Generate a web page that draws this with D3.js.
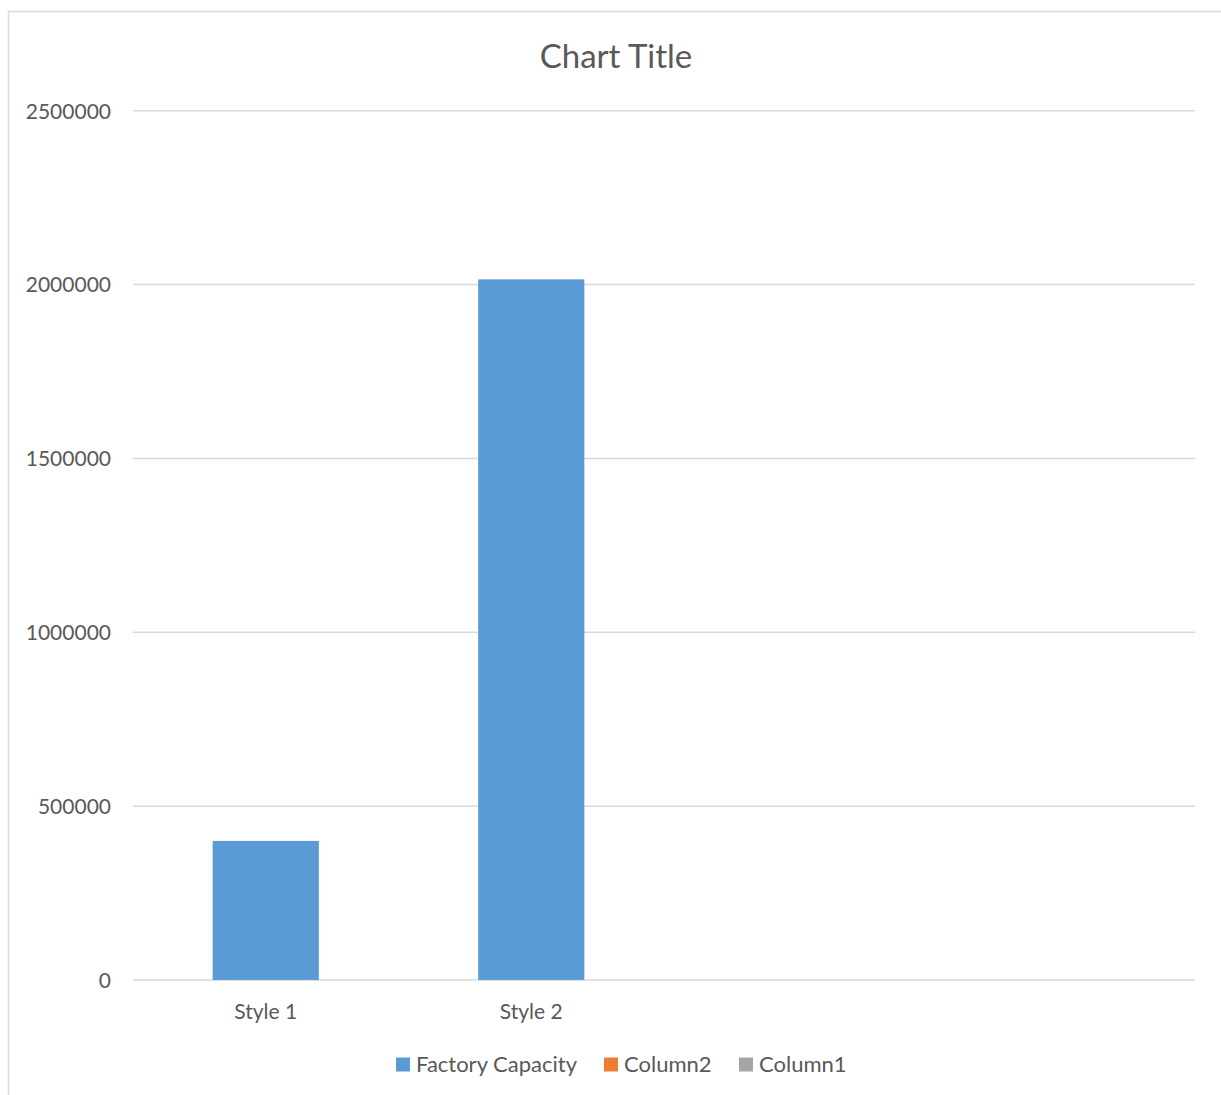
<!DOCTYPE html>
<html>
<head>
<meta charset="utf-8">
<script src="https://cdn.jsdelivr.net/npm/d3@7"></script>
<style>
  html, body { margin: 0; padding: 0; background: #fff; }
  svg { display: block; font-family: Lato, "Open Sans", sans-serif; }
</style>
</head>
<body>
<svg id="chart" width="1221" height="1095"></svg>
<script>
// Category labels along the x axis (the last two slots are empty)
const categories = ["Style 1", "Style 2", "", " "];
// Series names shown in the legend
const seriesNames = ["Factory Capacity", "Column2", "Column1"];
const seriesColors = ["#5b9bd5", "#ed7d31", "#a5a5a5"];
// Factory Capacity values per category
const factoryCapacity = [400000, 2015000, null, null];
// Y axis ticks
const yTicks = [0, 500000, 1000000, 1500000, 2000000, 2500000];

const svg = d3.select("#chart");
const W = 1221, H = 1095;
const plot = { left: 133, right: 1195, top: 110.7, bottom: 980 };

// chart frame
svg.append("rect")
  .attr("x", 8.5).attr("y", 11.5)
  .attr("width", W + 10).attr("height", H + 10)
  .attr("fill", "#fff").attr("stroke", "#d9d9d9").attr("stroke-width", 1.5);

// title
svg.append("text")
  .attr("x", 616).attr("y", 68)
  .attr("text-anchor", "middle")
  .attr("font-size", 33)
  .attr("fill", "#595959")
  .text("Chart Title");

const x = d3.scaleBand().domain(categories).range([plot.left, plot.right]);
const y = d3.scaleLinear().domain([0, 2500000]).range([plot.bottom, plot.top]);

// gridlines
svg.append("g").selectAll("line").data(yTicks).join("line")
  .attr("x1", plot.left).attr("x2", plot.right)
  .attr("y1", d => y(d)).attr("y2", d => y(d))
  .attr("stroke", "#d9d9d9").attr("stroke-width", 1.5);

// y axis labels
const yAxis = d3.axisLeft(y).tickValues(yTicks).tickFormat(d3.format("d")).tickSize(0).tickPadding(22);
svg.append("g").attr("transform", `translate(${plot.left},0)`).call(yAxis)
  .call(g => g.select(".domain").remove())
  .call(g => g.selectAll("text").attr("font-family", "Lato, sans-serif")
    .attr("font-size", 21).attr("fill", "#595959").attr("dy", "0.35em"));

// x axis labels
const xAxis = d3.axisBottom(x).tickSize(0).tickPadding(24);
svg.append("g").attr("transform", `translate(0,${plot.bottom})`).call(xAxis)
  .call(g => g.select(".domain").remove())
  .call(g => g.selectAll("text").attr("font-family", "Lato, sans-serif")
    .attr("font-size", 21).attr("fill", "#595959"));

// bars
const barW = x.bandwidth() * 0.4;
svg.append("g").selectAll("rect")
  .data(categories.map((c, i) => ({ c, v: factoryCapacity[i] })).filter(d => d.v != null))
  .join("rect")
  .attr("x", d => x(d.c) + (x.bandwidth() - barW) / 2)
  .attr("width", barW)
  .attr("y", d => y(d.v))
  .attr("height", d => y(0) - y(d.v))
  .attr("fill", seriesColors[0]);

// legend
const legendX = [396, 604, 739];
const lg = svg.append("g");
seriesNames.forEach((name, i) => {
  lg.append("rect")
    .attr("x", legendX[i]).attr("y", 1057.5)
    .attr("width", 14).attr("height", 14)
    .attr("fill", seriesColors[i]);
  lg.append("text")
    .attr("x", legendX[i] + 20).attr("y", 1072)
    .attr("font-size", 22).attr("fill", "#595959")
    .text(name);
});
</script>
</body>
</html>
